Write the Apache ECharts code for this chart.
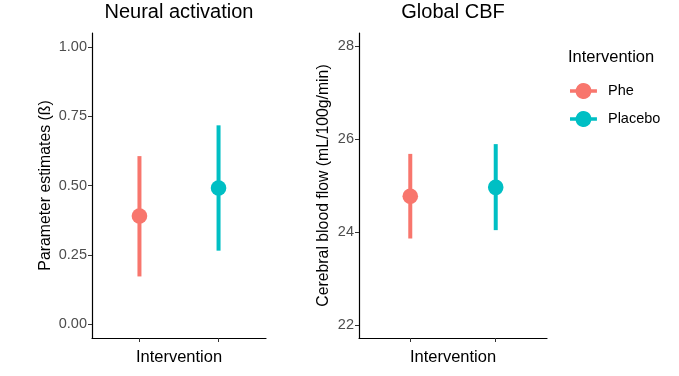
<!DOCTYPE html>
<html><head><meta charset="utf-8">
<script src="https://cdn.jsdelivr.net/npm/echarts@6/dist/echarts.min.js"></script>
<style>html,body{margin:0;padding:0;background:#fff}#c{width:679px;height:376px}</style>
</head><body><div id="c"></div>
<script>
const categories = ['Phe', 'Placebo'];
const colors = ['#F8766D', '#00BFC4'];
const neuralMean = [0.39, 0.491];
const neuralLow = [0.172, 0.265];
const neuralHigh = [0.606, 0.717];
const cbfMean = [24.77, 24.96];
const cbfLow = [23.86, 24.04];
const cbfHigh = [25.68, 25.89];
const neuralTicks = [0, 0.25, 0.5, 0.75, 1];
const cbfTicks = [22, 24, 26, 28];
const catPos = [1, 2];

const FONT = 'Liberation Sans, Arial, sans-serif';
const chart = echarts.init(document.getElementById('c'));

function renderItem(params, api) {
  const x = api.value(0);
  const p = api.coord([x, api.value(1)]);
  const lo = api.coord([x, api.value(2)]);
  const hi = api.coord([x, api.value(3)]);
  const col = api.visual('color');
  return {
    type: 'group',
    children: [
      {type: 'line', shape: {x1: lo[0], y1: lo[1], x2: hi[0], y2: hi[1]}, style: {stroke: col, lineWidth: 4}},
      {type: 'circle', shape: {cx: p[0], cy: p[1], r: 7.8}, style: {fill: col}}
    ]
  };
}

const series = [];
categories.forEach((c, i) => {
  series.push({
    name: c, type: 'custom', xAxisIndex: 0, yAxisIndex: 0, itemStyle: {color: colors[i]},
    renderItem, encode: {x: 0, y: [1, 2, 3]},
    data: [[catPos[i], neuralMean[i], neuralLow[i], neuralHigh[i]]]
  });
  series.push({
    name: c, type: 'custom', xAxisIndex: 1, yAxisIndex: 1, itemStyle: {color: colors[i]},
    renderItem, encode: {x: 0, y: [1, 2, 3]},
    data: [[catPos[i], cbfMean[i], cbfLow[i], cbfHigh[i]]]
  });
});

function xAxis(idx) {
  return {
    type: 'value', gridIndex: idx, min: 0.4, max: 2.6,
    name: 'Intervention', nameLocation: 'middle', nameGap: 11,
    nameTextStyle: {color: '#000', fontSize: 16.5, fontFamily: FONT},
    splitLine: {show: false},
    axisLine: {show: true, onZero: false, lineStyle: {color: '#000', width: 1.2}},
    axisTick: {show: true, customValues: catPos, length: 4, lineStyle: {color: '#333'}},
    axisLabel: {show: false, customValues: catPos}
  };
}
function yAxis(idx, min, max, ticks, name, gap, fmt) {
  return {
    type: 'value', gridIndex: idx, min, max,
    name, nameLocation: 'middle', nameGap: gap,
    nameTextStyle: {color: '#000', fontSize: 15.8, fontFamily: FONT},
    splitLine: {show: false},
    axisLine: {show: true, onZero: false, lineStyle: {color: '#000', width: 1.2}},
    axisTick: {show: true, customValues: ticks, length: 4, lineStyle: {color: '#333'}},
    axisLabel: {customValues: ticks, color: '#4D4D4D', fontSize: 14.5, fontFamily: FONT, margin: 5, formatter: fmt}
  };
}

const legendIcon = 'path://M0,6.25 L5.69,6.25 A8,8 0 0 1 21.31,6.25 L27,6.25 L27,9.75 L21.31,9.75 A8,8 0 0 1 5.69,9.75 L0,9.75 Z';

chart.setOption({
  animation: false,
  backgroundColor: '#fff',
  title: [
    {text: 'Neural activation', left: 179, top: 2, padding: 0, textAlign: 'center', textStyle: {fontSize: 20, fontWeight: 'normal', color: '#000', fontFamily: FONT}},
    {text: 'Global CBF', left: 453, top: 2, padding: 0, textAlign: 'center', textStyle: {fontSize: 20, fontWeight: 'normal', color: '#000', fontFamily: FONT}},
    {text: 'Intervention', left: 568, top: 49, padding: 0, textStyle: {fontSize: 16.5, fontWeight: 'normal', color: '#000', fontFamily: FONT}}
  ],
  legend: {
    data: categories, left: 570, top: 83, padding: 0, orient: 'vertical', itemGap: 12,
    itemWidth: 27, itemHeight: 16, icon: legendIcon,
    textStyle: {fontSize: 14.5, color: '#000', fontFamily: FONT, padding: [0, 0, 0, 6]}
  },
  grid: [
    {left: 92, top: 33, width: 174, height: 305},
    {left: 359, top: 33, width: 188, height: 305}
  ],
  xAxis: [xAxis(0), xAxis(1)],
  yAxis: [
    yAxis(0, -0.05, 1.05, neuralTicks, 'Parameter estimates (ß)', 38, v => v.toFixed(2)),
    yAxis(1, 21.72, 28.28, cbfTicks, 'Cerebral blood flow (mL/100g/min)', 27, v => String(v))
  ],
  series
});
</script></body></html>
